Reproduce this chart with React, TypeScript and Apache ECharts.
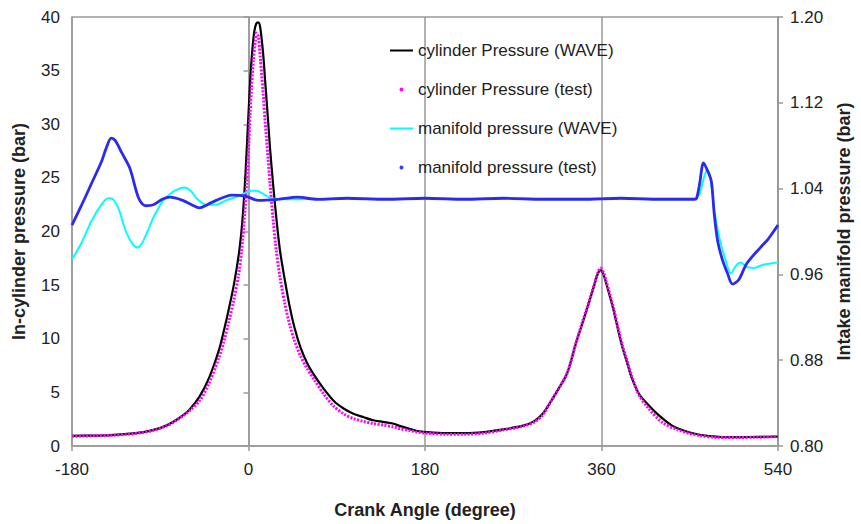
import React, { useEffect, useRef } from "react";
import * as echarts from "echarts";

// Crank angle (degree) / pressure (bar) pairs
const cylinderWave: [number, number][] = [
  [-180, 0.95], [-160, 0.97], [-140, 1.02], [-120, 1.15], [-107, 1.3], [-95, 1.55], [-84, 1.9],
  [-75, 2.35], [-67, 2.85], [-60, 3.4], [-50, 4.6], [-40, 6.4], [-30, 9.0], [-25, 10.8],
  [-20, 12.8], [-15, 15.0], [-10, 17.8], [-7, 20.2], [-5, 22.5], [-3, 25.5], [0, 31],
  [2, 34.5], [4, 37], [6, 38.7], [8, 39.4], [10, 39.5], [12, 39], [15, 36.5], [17, 34],
  [20, 30.3], [22, 27.7], [25, 24.5], [28, 21.6], [32, 18.3], [37, 15.5], [42, 13],
  [47, 11], [53, 9.2], [60, 7.7], [67, 6.6], [77, 5.3], [87, 4.2], [97, 3.5], [107, 3.0],
  [117, 2.7], [127, 2.4], [137, 2.25], [147, 2.1], [155, 1.85], [164, 1.6], [172, 1.4],
  [181, 1.3], [201, 1.2], [221, 1.2], [240, 1.3], [260, 1.55], [280, 1.9], [291, 2.3],
  [300, 3.0], [308, 4.1], [316, 5.3], [325, 6.8], [334, 9.6], [340, 11.3], [345, 12.7],
  [350, 14.2], [353, 15.1], [356, 16.0], [359, 16.4], [362, 16.0], [365, 15.1], [369, 13.8],
  [373, 12.4], [377, 10.8], [381, 9.3], [386, 7.8], [391, 6.3], [398, 4.9], [405, 4.1],
  [418, 2.9], [432, 1.9], [445, 1.4], [460, 1.05], [480, 0.85], [500, 0.82], [520, 0.85],
  [540, 0.88],
];

const cylinderTest: [number, number][] = [
  [-180, 0.9], [-160, 0.95], [-140, 1.0], [-120, 1.12], [-107, 1.28], [-95, 1.5], [-84, 1.85],
  [-75, 2.3], [-67, 2.8], [-60, 3.3], [-50, 4.2], [-40, 5.9], [-30, 8.3], [-25, 9.8],
  [-20, 11.6], [-15, 13.6], [-10, 16.0], [-7, 18.2], [-4, 21.5], [-2, 24.4],
  [0, 27.5], [1.5, 30.8], [3, 33.3], [5, 36], [7, 37.8], [8, 38.5], [10, 38.2], [12, 36.2],
  [15, 32.8], [17, 30.2], [20, 26.8], [22, 24.4], [25, 21.2], [28, 18.5], [32, 15.8],
  [37, 13.3], [42, 11.3], [47, 9.8], [53, 8.4], [60, 7.2], [67, 6.2], [77, 4.8],
  [87, 3.7], [97, 3.0], [107, 2.55], [117, 2.3], [127, 2.1], [137, 1.95], [147, 1.8],
  [155, 1.6], [164, 1.45], [172, 1.3], [181, 1.2], [201, 1.1], [221, 1.1], [240, 1.2],
  [260, 1.5], [280, 1.85], [291, 2.2], [300, 2.9], [308, 4.1], [316, 5.3], [325, 6.8],
  [334, 9.6], [340, 11.4], [345, 12.8], [350, 14.3], [353, 15.2], [356, 16.1], [359, 16.6],
  [362, 16.2], [365, 15.3], [369, 14.0], [373, 12.6], [377, 11.0], [381, 9.5], [386, 8.0],
  [391, 6.5], [398, 4.8], [408, 3.5], [422, 2.2], [438, 1.5], [458, 1.0], [478, 0.8],
  [500, 0.8], [520, 0.82], [535, 0.86], [540, 0.87],
];

const manifoldWave: [number, number][] = [
  [-180, 0.974], [-170, 0.99], [-160, 1.01], [-150, 1.025], [-143, 1.031], [-138, 1.03],
  [-132, 1.02], [-125, 1.0], [-118, 0.988], [-113, 0.985], [-108, 0.99], [-103, 1.0],
  [-97, 1.013], [-87, 1.029], [-80, 1.035], [-73, 1.039], [-65, 1.041], [-58, 1.037],
  [-53, 1.031], [-43, 1.025], [-33, 1.025], [-23, 1.029], [-10, 1.033], [3, 1.038],
  [8, 1.038], [17, 1.034], [23, 1.031], [40, 1.03], [100, 1.031], [200, 1.031],
  [300, 1.031], [400, 1.031], [455, 1.031], [460, 1.035], [465, 1.052], [468, 1.057],
  [471, 1.05], [475, 1.02], [480, 0.995], [486, 0.975], [492, 0.961], [497, 0.968],
  [502, 0.971], [508, 0.967], [515, 0.966], [525, 0.969], [540, 0.971],
];

const manifoldTest: [number, number][] = [
  [-180, 1.006], [-170, 1.025], [-160, 1.045], [-150, 1.065], [-145, 1.078], [-140, 1.087],
  [-136, 1.085], [-129, 1.073], [-121, 1.059], [-112, 1.031], [-105, 1.024], [-97, 1.025],
  [-88, 1.03], [-80, 1.032], [-67, 1.029], [-58, 1.025], [-50, 1.022], [-42, 1.025],
  [-33, 1.029], [-17, 1.034], [-3, 1.033], [10, 1.029], [30, 1.03], [50, 1.032], [70, 1.03],
  [100, 1.031], [140, 1.03], [180, 1.031], [220, 1.03], [260, 1.031], [300, 1.03],
  [340, 1.03], [380, 1.031], [420, 1.03], [455, 1.03], [457, 1.031], [460, 1.044],
  [464, 1.064], [468, 1.057], [472, 1.047], [475, 1.016], [478.5, 0.991], [483.5, 0.973],
  [488.5, 0.961], [493.5, 0.951], [500, 0.955], [508, 0.97], [522, 0.985], [530, 0.993],
  [537, 1.002], [540, 1.006],
];

const xTicks = [-180, 0, 180, 360, 540];
const seriesNames = [
  "cylinder Pressure (WAVE)",
  "cylinder Pressure (test)",
  "manifold pressure (WAVE)",
  "manifold pressure (test)",
];

export default function App() {
  const ref = useRef<HTMLDivElement>(null);
  useEffect(() => {
    if (!ref.current) return;
    const chart = echarts.init(ref.current, null, { renderer: "svg" });
    const axisColor = "#999";
    const textColor = "#222";
    const font = "Liberation Sans, Arial, sans-serif";
    const lineIcon = "path://M0,0L23,0L23,2L0,2Z";
    const titleStyle = { fontSize: 18, fontWeight: "bold", color: textColor, fontFamily: font };
    chart.setOption({
      animation: false,
      backgroundColor: "#fff",
      textStyle: { fontFamily: font },
      grid: {
        left: 72, right: 75, top: 17, bottom: 73,
        show: true, borderColor: axisColor, borderWidth: 1.5, backgroundColor: "transparent",
      },
      legend: {
        orient: "vertical",
        left: 385,
        top: 36,
        itemWidth: 23,
        itemHeight: 4,
        itemGap: 20,
        textStyle: { fontSize: 17, color: textColor, fontFamily: font, lineHeight: 19 },
        data: [
          { name: seriesNames[0], icon: lineIcon },
          { name: seriesNames[1], icon: "circle" },
          { name: seriesNames[2], icon: lineIcon },
          { name: seriesNames[3], icon: "circle" },
        ],
      },
      xAxis: {
        type: "value",
        min: -180,
        max: 540,
        interval: 180,
        name: "Crank Angle (degree)",
        nameLocation: "middle",
        nameGap: 55,
        nameTextStyle: titleStyle,
        axisLine: { lineStyle: { color: axisColor, width: 1.5 } },
        axisTick: { show: true, length: 5, lineStyle: { color: axisColor, width: 1.5 } },
        axisLabel: {
          fontSize: 17, color: textColor, margin: 15, fontFamily: font,
          formatter: (v: number) => (xTicks.includes(v) ? String(v) : ""),
        },
        splitLine: { show: true, lineStyle: { color: axisColor, width: 1.5 } },
      },
      yAxis: [
        {
          type: "value",
          min: 0,
          max: 40,
          interval: 5,
          name: "In-cylinder pressure (bar)",
          nameLocation: "middle",
          nameRotate: 90,
          nameGap: 44,
          nameTextStyle: titleStyle,
          axisLine: { show: true, lineStyle: { color: axisColor, width: 1.5 } },
          axisTick: { show: true, length: 5, lineStyle: { color: axisColor, width: 1.5 } },
          axisLabel: { fontSize: 17, color: textColor, margin: 12, fontFamily: font },
          splitLine: { show: false },
        },
        {
          type: "value",
          min: 0.8,
          max: 1.2,
          interval: 0.08,
          position: "right",
          name: "Intake manifold pressure (bar)",
          nameLocation: "middle",
          nameRotate: 90,
          nameGap: 57,
          nameTextStyle: titleStyle,
          axisLine: { show: true, lineStyle: { color: axisColor, width: 1.5 } },
          axisTick: { show: true, length: 5, lineStyle: { color: axisColor, width: 1.5 } },
          axisLabel: {
            fontSize: 17, color: textColor, margin: 12, fontFamily: font,
            formatter: (v: number) => v.toFixed(2),
          },
          splitLine: { show: false },
        },
      ],
      series: [
        {
          name: seriesNames[0],
          type: "line",
          yAxisIndex: 0,
          data: cylinderWave,
          symbol: "none",
          smooth: 0.3,
          color: "#000",
          lineStyle: { color: "#000", width: 2.2 },
          itemStyle: { color: "#000" },
          z: 2,
        },
        {
          name: seriesNames[1],
          type: "line",
          yAxisIndex: 0,
          data: cylinderTest,
          symbol: "none",
          smooth: 0.3,
          color: "#ff00ff",
          lineStyle: { color: "#ff00ff", width: 3, type: [2, 1.5] },
          itemStyle: { color: "#ff00ff" },
          z: 3,
        },
        {
          name: seriesNames[2],
          type: "line",
          yAxisIndex: 1,
          data: manifoldWave,
          symbol: "none",
          smooth: 0.3,
          color: "#00ffff",
          lineStyle: { color: "#00ffff", width: 2 },
          itemStyle: { color: "#00ffff" },
          z: 4,
        },
        {
          name: seriesNames[3],
          type: "line",
          yAxisIndex: 1,
          data: manifoldTest,
          symbol: "none",
          smooth: 0.3,
          color: "#2a2af0",
          lineStyle: { color: "#2a2af0", width: 2.8 },
          itemStyle: { color: "#3b3bf5" },
          z: 5,
        },
      ],
    });
    return () => chart.dispose();
  }, []);
  return <div ref={ref} style={{ width: 861, height: 524, position: "absolute", left: 0, top: 0 }} />;
}
